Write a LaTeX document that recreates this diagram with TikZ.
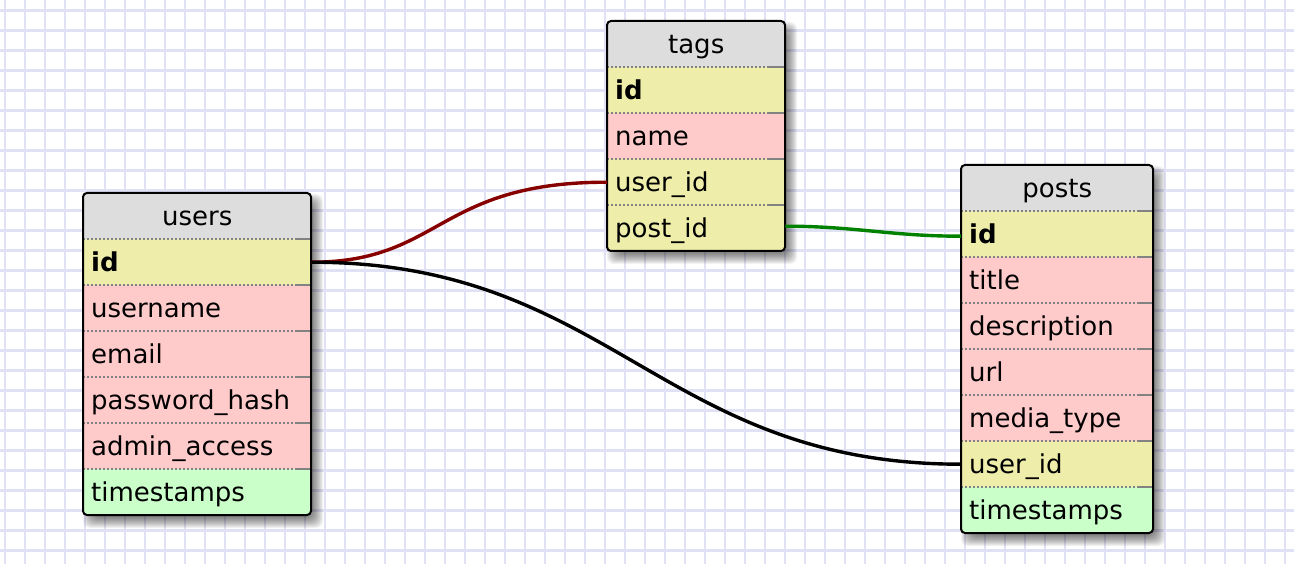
\documentclass[tikz,border=0pt]{standalone}
\usepackage{fontspec}
\setmainfont{DejaVu Sans}
\definecolor{gridc}{RGB}{225,225,246}
\definecolor{headc}{RGB}{221,221,221}
\definecolor{keyc}{RGB}{238,238,170}
\definecolor{attrc}{RGB}{255,202,202}
\definecolor{metac}{RGB}{202,255,202}
\definecolor{sepc}{RGB}{130,130,130}
\definecolor{fkred}{RGB}{135,0,0}
\definecolor{fkgreen}{RGB}{0,130,0}

\tikzset{
  rowbox/.style={anchor=north west, inner xsep=8pt, inner ysep=0pt,
    text height=32pt, text depth=14pt, minimum height=46pt, align=left},
  sepdots/.style={draw=sepc, line width=1.6pt, dash pattern=on 2pt off 2pt},
  sepsolid/.style={draw=sepc, line width=1.6pt},
  border/.style={draw=black, line width=2pt, rounded corners=4pt},
  gridline/.style={draw=gridc, line width=2.2pt},
  link/.style={line width=3.4pt},
}

% #1 name prefix, #2 left, #3 top, #4 width, #5 number of rows,
% #6 title, #7 rows as key/label/colour
\newcommand\erdtable[7]{%
  \pgfmathsetmacro\tbot{#3+46*(#5+1)}%
  \pgfmathsetmacro\tright{#2+#4}%
  \pgfmathsetmacro\tw{#4-16}%
  % soft drop shadow
  \foreach \k in {0,...,11}{%
    \fill[black, opacity=0.05, rounded corners=7pt]
      (#2+6-6+\k, #3+7-6+\k) rectangle (\tright+6+6-\k, \tbot+7+6-\k);}
  \begin{scope}
    \clip[rounded corners=4pt] (#2,#3) rectangle (\tright,\tbot);
    \node[rowbox, fill=headc, text width=\tw pt, align=center] (#1-head) at (#2,#3) {#6};
    \foreach [count=\i] \key/\lab/\col in {#7} {%
      \node[rowbox, fill=\col, text width=\tw pt] (#1-\key) at (#2, #3+46*\i) {\lab};
      \draw[sepdots] (#2, #3+46*\i) -- (\tright-16, #3+46*\i);
      \draw[sepsolid] (\tright-16, #3+46*\i) -- (\tright, #3+46*\i);
    }
  \end{scope}
  \draw[border] (#2,#3) rectangle (\tright,\tbot);
}

\begin{document}
\begin{tikzpicture}[x=1pt, y=-1pt, every node/.style={font=\fontsize{26}{30}\selectfont}]
  \useasboundingbox (0,0) rectangle (1294,564);
  \fill[white] (0,0) rectangle (1294,564);

  % graph paper
  \foreach \gx in {0,...,64} \draw[gridline] (5+20*\gx, 0) -- (5+20*\gx, 564);
  \foreach \gy in {0,...,27} \draw[gridline] (0, 10.5+20*\gy) -- (1294, 10.5+20*\gy);

  % tables
  \erdtable{users}{83}{193}{228}{6}{users}{%
    id/\textbf{id}/keyc, username/username/attrc, email/email/attrc,
    pwhash/password\_hash/attrc, admin/admin\_access/attrc, ts/timestamps/metac}
  \erdtable{tags}{607}{21}{178}{4}{tags}{%
    id/\textbf{id}/keyc, name/name/attrc, userid/user\_id/keyc, postid/post\_id/keyc}
  \erdtable{posts}{961}{165}{192}{7}{posts}{%
    id/\textbf{id}/keyc, title/title/attrc, desc/description/attrc, url/url/attrc,
    media/media\_type/attrc, userid/user\_id/keyc, ts/timestamps/metac}

  % relations
  \draw[link, fkred] (users-id.east) .. controls +(130,0) and +(-170,0) .. (tags-userid.west);
  \draw[link, black] (users-id.east) .. controls +(300,0) and +(-300,0) .. (posts-userid.west);
  \draw[link, fkgreen] ([yshift=2pt]tags-postid.east) .. controls +(70,0) and +(-70,0) .. ([yshift=-2pt]posts-id.west);
\end{tikzpicture}
\end{document}
